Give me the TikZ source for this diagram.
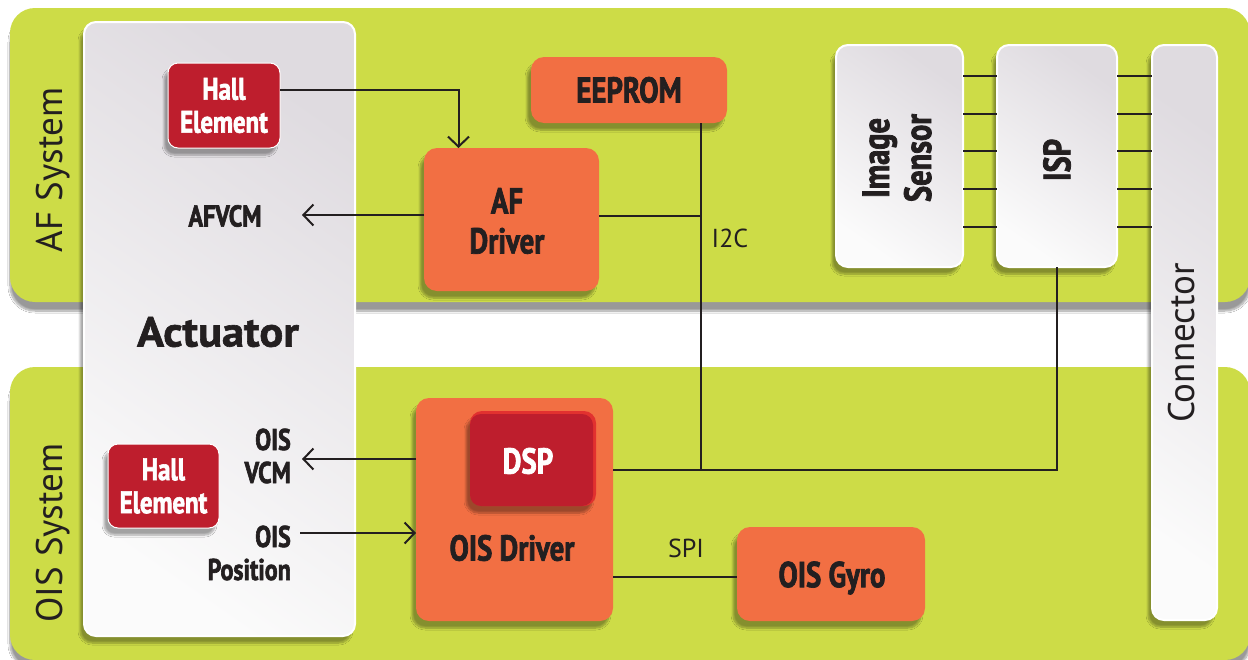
\documentclass[tikz,border=0pt]{standalone}
\usepackage{fontspec}
\setmainfont{PT Sans}
\newfontfamily\condbold{PT Sans}[FakeStretch=0.8,FakeBold=2]
\newfontfamily\widebold{PT Sans}[FakeStretch=1.06,FakeBold=1.5]
\usetikzlibrary{arrows.meta,shadows.blur}

\definecolor{lime}{HTML}{CDDC47}
\definecolor{orng}{HTML}{F26F43}
\definecolor{hallred}{HTML}{BE1E2D}
\definecolor{dspedge}{HTML}{E2312F}
\definecolor{ink}{HTML}{231F20}
\definecolor{paleA}{HTML}{DFDBE0}
\definecolor{paleB}{HTML}{FBFBFB}

\tikzset{
  panel/.style={fill=lime, rounded corners=25pt, inner sep=0pt, outer sep=0pt,
    blur shadow={shadow xshift=0pt, shadow yshift=-9pt, shadow blur steps=10, shadow opacity=40}},
  boxshadow/.style={blur shadow={shadow xshift=-4pt, shadow yshift=-7pt, shadow blur steps=8, shadow opacity=35}},
  graybox/.style={boxshadow, draw=white, line width=2pt, rounded corners=12pt,
    top color=paleA, bottom color=paleB, shading angle=-35, inner sep=0pt, outer sep=0pt},
  orangebox/.style={boxshadow, fill=orng, rounded corners=13pt, inner sep=0pt, outer sep=0pt,
    text=ink, align=center, font=\condbold\bfseries\fontsize{36}{40}\selectfont},
  redbox/.style={boxshadow, fill=hallred, draw=white, line width=1pt, rounded corners=10pt,
    inner sep=0pt, outer sep=0pt, text=white, align=center,
    font=\condbold\bfseries\fontsize{31}{33}\selectfont},
  bigbold/.style={text=ink, inner sep=0pt, align=center, font=\condbold\bfseries\fontsize{36}{40}\selectfont},
  sigtext/.style={text=ink, align=right, inner sep=0pt, font=\condbold\bfseries\fontsize{30}{33}\selectfont},
  systext/.style={text=ink, rotate=90, inner sep=0pt, font=\fontsize{37}{40}\selectfont},
  bustext/.style={text=ink, inner sep=0pt, font=\fontsize{26}{28}\selectfont},
  wire/.style={draw=ink, line width=2pt},
  arr/.style={wire, -{Straight Barb[length=10pt,width=21pt]}}
}

\begin{document}
\begin{tikzpicture}[x=1pt,y=-1pt]
\useasboundingbox (0,0) rectangle (1248,659);
\fill[white] (0,0) rectangle (1248,659);

% system panels
\node[panel, minimum width=1240pt, minimum height=294pt] (afpanel) at (630,155) {};
\node[panel, minimum width=1240pt, minimum height=293pt] (oispanel) at (630,513.5) {};
\node[systext] (aflabel) at (53,170) {AF System};
\node[systext] (oislabel) at (53,533) {OIS System};

% actuator column
\node[graybox, minimum width=271pt, minimum height=614pt] (act) at (219.5,329) {};
\node[text=ink, inner sep=0pt, font=\widebold\bfseries\fontsize{42}{46}\selectfont] (acttext) at (218,332) {Actuator};
\node[redbox, minimum width=112pt, minimum height=85pt] (hallaf) at (224,105.5) {Hall\\Element};
\node[redbox, minimum width=111pt, minimum height=84pt] (hallois) at (163.5,486) {Hall\\Element};
\node[sigtext, align=center] (afvcm) at (225,216) {AFVCM};
\node[sigtext, anchor=east] (oisvcm) at (291,456) {OIS\\VCM};
\node[sigtext, anchor=east] (oispos) at (291,553) {OIS\\Position};

% drivers and memory
\node[orangebox, minimum width=196pt, minimum height=66pt] (eeprom) at (629,90) {EEPROM};
\node[orangebox, minimum width=175pt, minimum height=143pt] (afdrv) at (511.5,219.5) {};
\node[bigbold] (afdrvtext) at (507,221) {AF\\Driver};
\node[orangebox, minimum width=197pt, minimum height=223pt] (oisdrv) at (514.5,509.5) {};
\node[bigbold] (oisdrvtext) at (512,548) {OIS Driver};
\node[boxshadow, fill=dspedge, rounded corners=12pt, inner sep=0pt, outer sep=0pt,
  minimum width=126pt, minimum height=95pt] (dsp) at (533,458.5) {};
\fill[hallred, rounded corners=11pt] ([yshift=-3pt]dsp.north west) rectangle ([xshift=-3pt]dsp.south east);
\node[bigbold, text=white] (dsptext) at (528,461) {DSP};
\node[orangebox, minimum width=188pt, minimum height=94pt] (gyro) at (831,574) {};
\node[bigbold] (gyrotext) at (832,578) {OIS Gyro};

% image path
\node[graybox, minimum width=127pt, minimum height=222pt] (sensor) at (899.5,156) {};
\node[bigbold, rotate=90, font=\condbold\bfseries\fontsize{38}{42}\selectfont] (sensortext) at (897,158) {Image\\Sensor};
\node[graybox, minimum width=120pt, minimum height=222pt] (isp) at (1057,156) {};
\node[bigbold, rotate=90, font=\condbold\bfseries\fontsize{38}{42}\selectfont] (isptext) at (1057,160) {ISP};
\node[graybox, minimum width=65pt, minimum height=575pt] (conn) at (1184.5,332.5) {};
\node[systext] (conntext) at (1182,343) {Connector};

% bus labels
\node[bustext] (i2c) at (730,238) {I2C};
\node[bustext] (spi) at (686,548) {SPI};

% junction points and arrow ends
\coordinate (bus) at (701,470);
\coordinate (afvcmtip) at (302,215);
\coordinate (vcmtip) at (302,459);
\coordinate (postail) at (300,533);

% connections
\draw[arr] (hallaf.east |- 0,90) -| ([xshift=-53pt]afdrv.north);
\draw[arr] (afdrv.west |- afvcmtip) -- (afvcmtip);
\draw[wire] (afdrv.east |- 0,216) -- (bus |- 0,216);
\draw[wire] (eeprom.south -| bus) -- (bus);
\draw[wire] (oisdrv.east |- bus) -| (isp.south);
\draw[arr] (oisdrv.west |- vcmtip) -- (vcmtip);
\draw[arr] (postail) -- (oisdrv.west |- postail);
\draw[wire] (oisdrv.east |- 0,577) -- (gyro.west |- 0,577);
\foreach \yy in {76,113.7,151.4,189,226.7} {
  \draw[wire] (sensor.east |- 0,\yy) -- (isp.west |- 0,\yy);
  \draw[wire] (isp.east |- 0,\yy) -- (conn.west |- 0,\yy);
}
\end{tikzpicture}
\end{document}
